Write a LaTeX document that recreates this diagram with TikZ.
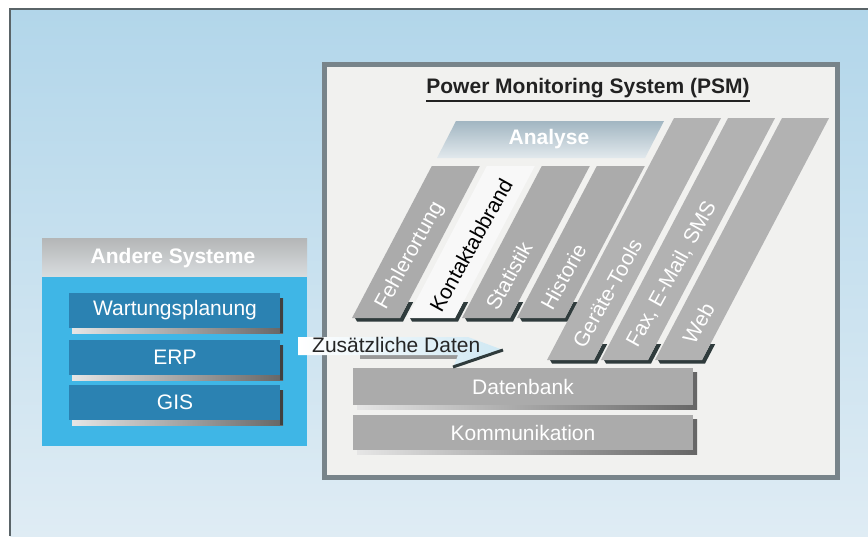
\documentclass[tikz,border=0pt]{standalone}
\usepackage{fontspec}
\setmainfont{Liberation Sans}
\definecolor{bgtop}{HTML}{B2D6EA}
\definecolor{bgbot}{HTML}{DFECF4}
\definecolor{bgline}{HTML}{5A6468}
\definecolor{framec}{HTML}{78848A}
\definecolor{panelc}{HTML}{F1F1EF}
\definecolor{barc}{HTML}{ABABAB}
\definecolor{tallc}{HTML}{B2B2B2}
\definecolor{hilite}{HTML}{F8F8F8}
\definecolor{shadowc}{HTML}{2F3B3C}
\definecolor{anatop}{HTML}{A2B6C2}
\definecolor{anabot}{HTML}{E2E9ED}
\definecolor{hdtop}{HTML}{B4B6B7}
\definecolor{hdbot}{HTML}{D9DDDF}
\definecolor{bluec}{HTML}{3FB6E6}
\definecolor{btnc}{HTML}{2B82B2}
\definecolor{arrowb}{HTML}{CFE8F3}
\definecolor{titlec}{HTML}{222222}
\newcommand\slantbar[5]{%
  % #1 bottom-left x, #2 bottom y, #3 height, #4 width, #5 fill
  \fill[shadowc] (#1+3,#2) -- (#1+#4,#2) -- (#1+#4+8.4,#2-16)
     -- (#1+#4+13.2,#2-16) -- (#1+#4+3,#2+3.5) -- (#1+5,#2+3.5) -- cycle;
  \fill[#5] (#1,#2) -- (#1+#4,#2) -- (#1+#4+0.525*#3,#2-#3)
     -- (#1+0.525*#3,#2-#3) -- cycle;
}
\begin{document}
\begin{tikzpicture}[x=1pt,y=-1pt,
  txt/.style={font=\fontsize{21}{25}\selectfont, inner sep=0pt},
  btxt/.style={font=\fontsize{21}{25}\selectfont\bfseries, inner sep=0pt},
  bartxt/.style={txt, white, rotate=61, anchor=west},
  btnshadow/.style={left color=white!80!gray, right color=black!60},
]
\useasboundingbox (0,0) rectangle (868,536);
\fill[white] (0,0) rectangle (868,536);
\shade[top color=bgtop, bottom color=bgbot] (10,9) rectangle (868,536);
\draw[line width=1.2pt, bgline] (10,536) -- (10,9) -- (868,9);

% ---------- PSM frame ----------
\fill[panelc] (324,64) rectangle (838,477);
\draw[line width=5pt, framec] (324.5,64.5) rectangle (837.5,477.5);
\node[btxt, titlec] (title) at (588,88) {Power Monitoring System (PSM)};
\draw[line width=2pt, titlec] ([yshift=-3pt]title.south west) -- ([yshift=-3pt]title.south east);

% Analyse
\shade[top color=anatop, bottom color=anabot] (456,121) -- (664,121) -- (645,158) -- (437,158) -- cycle;
\node[btxt, white] (analyse) at (549,139) {Analyse};

% analysis bars
\slantbar{352}{318}{152}{48}{barc}
\slantbar{407}{318}{152}{48}{hilite}
\slantbar{462}{318}{152}{48}{barc}
\slantbar{517}{318}{152}{48}{barc}
% tall bars
\slantbar{547}{360}{242}{47}{tallc}
\slantbar{601}{360}{242}{47}{tallc}
\slantbar{655}{360}{242}{47}{tallc}

\node[bartxt] (fehler) at (381,308) {Fehlerortung};
\node[bartxt, black] (kontakt) at (435,310) {Kontaktabbrand};
\node[bartxt] (stat) at (491,308) {Statistik};
\node[bartxt] (hist) at (546,308) {Historie};
\node[bartxt] (geraete) at (578,346) {Geräte-Tools};
\node[bartxt] (fax) at (632,346) {Fax, E-Mail, SMS};
\node[bartxt] (web) at (688,342) {Web};

% Datenbank / Kommunikation
\fill[btnshadow] (357,372) rectangle (697,409);
\fill[barc] (353,368) rectangle (693,405);
\node[txt, white] (db) at (523,387) {Datenbank};
\fill[btnshadow] (357,419) rectangle (697,454);
\fill[barc] (353,415) rectangle (693,450);
\node[txt, white] (komm) at (523,433) {Kommunikation};

% ---------- Andere Systeme ----------
\shade[top color=hdtop, bottom color=hdbot] (42,238) rectangle (307,277);
\node[btxt, white] (andere) at (173,258) {Andere Systeme};
\fill[bluec] (42,277) rectangle (307,446);
\foreach \yy/\nm/\lab in {293/wart/Wartungsplanung, 340/erp/ERP, 385/gis/GIS}{
  \fill[btnshadow] (72,\yy+5) rectangle (283,\yy+40);
  \fill[black!75] (280,\yy+5) rectangle (283,\yy+40);
  \fill[btnc] (69,\yy) rectangle (280,\yy+35);
  \node[txt, white] (\nm) at (175,\yy+17.5) {\lab};
}

% ---------- Zusätzliche Daten arrow ----------
\fill[black!40] (360,355) -- (458,355) -- (458,359) -- (360,359) -- cycle;
\shade[left color=white, right color=arrowb] (298,337) -- (468,337) -- (503,350)
   -- (453,368) -- (458,355) -- (298,355) -- cycle;
\draw[line width=3pt, shadowc] (453,367) -- (503,350);
\node[txt, black!85, anchor=west] (zus) at (312,345) {Zusätzliche Daten};
\end{tikzpicture}
\end{document}
